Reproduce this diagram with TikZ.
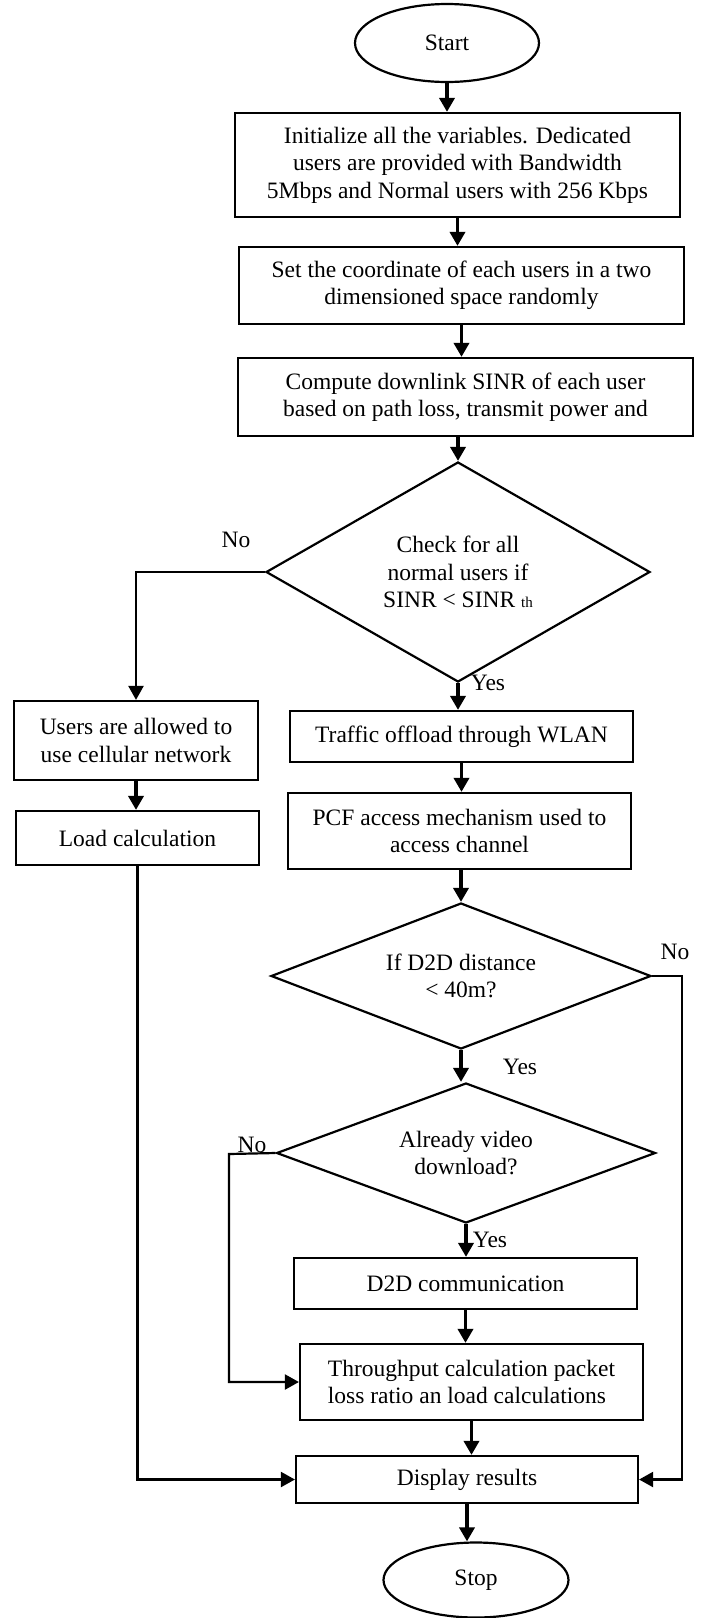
\documentclass[tikz,border=0pt]{standalone}
\usepackage{fontspec}
\setmainfont{Liberation Serif}
\usetikzlibrary{shapes.geometric,arrows.meta}

\begin{document}
\begin{tikzpicture}[x=1pt,y=-1pt,
	font=\fontsize{23.5}{27.5}\selectfont,
	box/.style={draw,line width=2.2pt,rectangle,align=center,inner sep=2pt},
	term/.style={draw,line width=2.2pt,ellipse,inner sep=0pt},
	decision/.style={draw,line width=2.2pt,diamond,align=center,inner sep=0pt},
	arr/.style={line width=3.8pt,-{Triangle[width=15pt,length=14pt]}},
	larr/.style={line width=2.2pt,-{Triangle[width=15pt,length=14pt]}}
	]
	\useasboundingbox (0,0) rectangle (707,1618);
	
	\node[term,minimum width=184pt,minimum height=78pt] (start) at (447,43) {Start};
	\node[box,minimum width=445pt,minimum height=104pt] (init) at (457.5,165)
		{Initialize all the variables. Dedicated\\users are provided with Bandwidth\\5Mbps and Normal users with 256 Kbps};
	\node[box,minimum width=445pt,minimum height=77pt] (coord) at (461.5,285.5)
		{Set the coordinate of each users in a two\\dimensioned space randomly};
	\node[box,minimum width=455pt,minimum height=78pt] (sinr) at (465.5,397)
		{Compute downlink SINR of each user\\based on path loss, transmit power and};
	\node[decision,aspect=1.75,minimum width=384pt,minimum height=220pt] (check) at (458,572)
		{Check for all\\normal users if\\SINR < SINR {\fontsize{15}{15}\selectfont th}};
	\node[box,minimum width=244pt,minimum height=79pt] (users) at (136,740.5)
		{Users are allowed to\\use cellular network};
	\node[box,minimum width=243pt,minimum height=54pt] (load) at (137.5,838) {Load calculation};
	\node[box,minimum width=343pt,minimum height=51pt] (wlan) at (461.5,736.5) {Traffic offload through WLAN};
	\node[box,minimum width=343pt,minimum height=76pt] (pcf) at (459.5,831)
		{PCF access mechanism used to\\access channel};
	\node[decision,aspect=2.6,minimum width=380pt,minimum height=146pt] (dist) at (461,976)
		{If D2D distance\\< 40m?};
	\node[decision,aspect=2.7,minimum width=379pt,minimum height=140pt] (video) at (466,1153)
		{Already video\\download?};
	\node[box,minimum width=343pt,minimum height=51pt] (dtd) at (465.5,1283.5) {D2D communication};
	\node[box,align=left,minimum width=343pt,minimum height=76pt] (thr) at (471.5,1382)
		{Throughput calculation packet\\loss ratio an load calculations};
	\node[box,minimum width=342pt,minimum height=47pt] (disp) at (467,1479.5) {Display results};
	\node[term,minimum width=185pt,minimum height=75pt] (stop) at (476,1580) {Stop};
	
	\coordinate (rgt) at (682,976);
	\coordinate (lft) at (229,1154);
	
	\draw[arr] (start) -- (start |- init.north);
	\draw[arr] (init.south) -- (init.south |- coord.north);
	\draw[arr] (coord.south) -- (coord.south |- sinr.north);
	\draw[arr] (check.north |- sinr.south) -- (check.north);
	\draw[larr] (check.west) -| (users.north);
	\draw[arr] (check.south) -- (check.south |- wlan.north);
	\draw[arr] (users.south) -- (users.south |- load.north);
	\draw[arr] (wlan.south) -- (wlan.south |- pcf.north);
	\draw[arr] (dist.north |- pcf.south) -- (dist.north);
	\draw[arr] (dist.south) -- (dist.south |- video.north);
	\draw[larr] (dist.east) -- (rgt) |- (disp.east);
	\draw[arr] (video.south) -- (video.south |- dtd.north);
	\draw[larr] (video.west) -- (lft) |- (thr.west);
	\draw[arr] (dtd.south) -- (dtd.south |- thr.north);
	\draw[arr] (thr.south) -- (thr.south |- disp.north);
	\draw[larr] (load.south) |- (disp.west);
	\draw[arr] (disp.south) -- (disp.south |- stop.north);
	
	\node (no1) at (236,540) {No};
	\node (yes1) at (488,683) {Yes};
	\node (no2) at (675,952) {No};
	\node (yes2) at (520,1067) {Yes};
	\node (no3) at (252,1145) {No};
	\node (yes3) at (490,1240) {Yes};
	
\end{tikzpicture}
\end{document}
